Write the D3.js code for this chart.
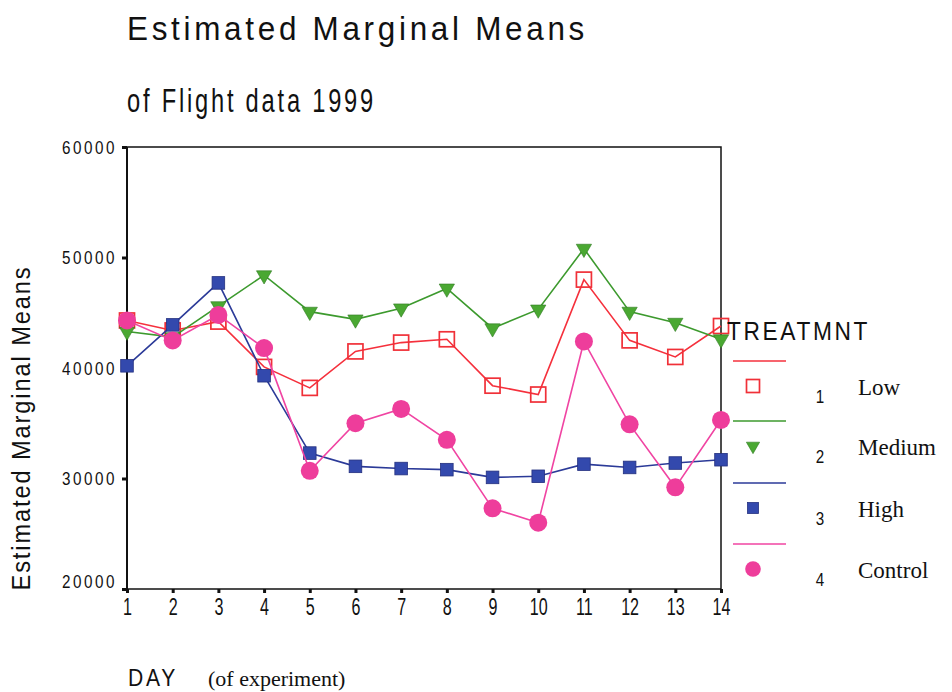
<!DOCTYPE html>
<html>
<head>
<meta charset="utf-8">
<script src="https://cdn.jsdelivr.net/npm/d3@7"></script>
<style>
  body { margin: 0; background: #fff; }
  text { font-family: "Liberation Sans", Arial, sans-serif; fill: #111; }
  .serif { font-family: "Liberation Serif", "Times New Roman", serif; }
</style>
</head>
<body>
<div id="chart"></div>
<script>
// Data
const days = [1, 2, 3, 4, 5, 6, 7, 8, 9, 10, 11, 12, 13, 14];
const yTicks = [20000, 30000, 40000, 50000, 60000];
const groups = ['Low', 'Medium', 'High', 'Control'];
const lowValues = [44300, 43400, 44200, 40100, 38200, 41500, 42300, 42600, 38400, 37600, 48000, 42500, 41000, 43800];
const mediumValues = [43300, 42800, 45600, 48400, 45100, 44400, 45400, 47200, 43600, 45300, 50800, 45100, 44100, 42600];
const highValues = [40200, 43900, 47700, 39300, 32300, 31100, 30900, 30800, 30100, 30200, 31300, 31000, 31400, 31700];
const controlValues = [44300, 42500, 44800, 41800, 30700, 35000, 36300, 33500, 27300, 26000, 42400, 34900, 29200, 35300];

const width = 952;
const height = 692;
const plot = { left: 127, right: 721, top: 147, bottom: 589 };

const series = [
  { name: groups[0], values: lowValues, line: '#f5303c', marker: 'openSquare', color: '#f03038' },
  { name: groups[1], values: mediumValues, line: '#3d9a2e', marker: 'triangle', color: '#4aa832' },
  { name: groups[2], values: highValues, line: '#2b3a98', marker: 'square', color: '#3349ad' },
  { name: groups[3], values: controlValues, line: '#f044a2', marker: 'circle', color: '#ee3d9b' }
];

const svg = d3.select('#chart')
  .append('svg')
  .attr('width', width)
  .attr('height', height);

const x = d3.scaleLinear().domain([1, 14]).range([plot.left, plot.right]);
const y = d3.scaleLinear().domain([20000, 60000]).range([plot.bottom, plot.top]);

// Condensed, spaced-out lettering like the original: letter-spacing,
// then squeeze everything into the measured width.
const condensed = (sel, size, spacing, len) => sel
  .attr('font-size', size)
  .style('letter-spacing', spacing + 'px')
  .attr('textLength', len)
  .attr('lengthAdjust', 'spacingAndGlyphs');

// Titles
condensed(svg.append('text').attr('x', 127).attr('y', 40).text('Estimated Marginal Means'), 34, 4, 461);
condensed(svg.append('text').attr('x', 127).attr('y', 112).text('of Flight data 1999'), 34, 4, 249);

// Frame
svg.append('rect')
  .attr('x', plot.left).attr('y', plot.top)
  .attr('width', plot.right - plot.left)
  .attr('height', plot.bottom - plot.top)
  .attr('fill', 'none')
  .attr('stroke', '#111')
  .attr('stroke-width', 1.5);

svg.append('line')
  .attr('x1', plot.left).attr('x2', plot.left)
  .attr('y1', plot.top).attr('y2', plot.bottom)
  .attr('stroke', '#111').attr('stroke-width', 2);

// Axes
const yAxis = svg.append('g')
  .attr('transform', `translate(${plot.left},0)`)
  .call(d3.axisLeft(y).tickValues(yTicks).tickSize(5).tickPadding(5).tickFormat(d3.format('d')));

const xAxis = svg.append('g')
  .attr('transform', `translate(0,${plot.bottom})`)
  .call(d3.axisBottom(x).tickValues(days).tickSize(4).tickPadding(6).tickFormat(d3.format('d')));

[yAxis, xAxis].forEach(axis => {
  axis.select('.domain').remove();
  axis.selectAll('.tick line').attr('stroke', '#111').attr('stroke-width', 3);
  axis.selectAll('.tick text')
    .attr('fill', '#111')
    .style('font-family', '"Liberation Sans", Arial, sans-serif');
});

// the bottom label sits a little above its tick in the original
yAxis.selectAll('.tick text')
  .attr('dy', d => d === 20000 ? '-0.1em' : '0.36em')
  .call(sel => condensed(sel, 18, 3, 55));

xAxis.selectAll('.tick text')
  .attr('font-size', 23)
  .attr('dy', '0.71em')
  .attr('transform', 'scale(0.7,1)');

// Axis titles
condensed(svg.append('text')
  .attr('transform', 'translate(30,428) rotate(-90)')
  .attr('text-anchor', 'middle')
  .text('Estimated Marginal Means'), 25, 2, 325);

condensed(svg.append('text').attr('x', 128).attr('y', 686).text('DAY'), 23, 3, 50);

svg.append('text')
  .attr('class', 'serif')
  .attr('x', 208).attr('y', 686)
  .attr('font-size', 22)
  .text('(of experiment)');

// Markers
const drawMarker = (sel, s, size) => {
  if (s.marker === 'openSquare') {
    sel.append('rect')
      .attr('x', -size / 2).attr('y', -size / 2)
      .attr('width', size).attr('height', size)
      .attr('fill', 'none').attr('stroke', s.color).attr('stroke-width', 1.7);
  } else if (s.marker === 'square') {
    sel.append('rect')
      .attr('x', -size * 0.42).attr('y', -size * 0.42)
      .attr('width', size * 0.84).attr('height', size * 0.84)
      .attr('fill', s.color).attr('stroke', '#24307f').attr('stroke-width', 0.8);
  } else if (s.marker === 'triangle') {
    sel.append('path')
      .attr('d', d3.symbol(d3.symbolTriangle, size * size * 0.45)())
      .attr('transform', 'rotate(180)')
      .attr('fill', s.color).attr('stroke', '#2f7a22').attr('stroke-width', 0.6);
  } else {
    sel.append('circle')
      .attr('r', size * 0.6)
      .attr('fill', s.color);
  }
};

const line = d3.line()
  .x((d, i) => x(days[i]))
  .y(d => y(d));

series.forEach(s => {
  const g = svg.append('g');

  g.append('path')
    .datum(s.values)
    .attr('fill', 'none')
    .attr('stroke', s.line)
    .attr('stroke-width', 1.6)
    .attr('d', line);

  g.selectAll('g.pt')
    .data(s.values)
    .join('g')
    .attr('class', 'pt')
    .attr('transform', (d, i) => `translate(${x(days[i])},${y(d)})`)
    .each(function () { drawMarker(d3.select(this), s, 15); });
});

// Legend
condensed(svg.append('text').attr('x', 727).attr('y', 340).text('TREATMNT'), 26, 3, 143);

const legendRowsY = [361, 421, 483, 544];

series.forEach((s, i) => {
  const ly = legendRowsY[i];
  svg.append('line')
    .attr('x1', 733).attr('x2', 786)
    .attr('y1', ly).attr('y2', ly)
    .attr('stroke', s.line).attr('stroke-width', 1.6);

  const mg = svg.append('g')
    .attr('transform', `translate(753,${ly + 25})`);
  drawMarker(mg, s, 13);

  svg.append('text')
    .attr('transform', `translate(820,${ly + 42}) scale(0.8,1)`)
    .attr('text-anchor', 'middle')
    .attr('font-size', 19)
    .text(i + 1);

  svg.append('text')
    .attr('class', 'serif')
    .attr('x', 858).attr('y', ly + 34)
    .attr('font-size', 23)
    .text(s.name);
});
</script>
</body>
</html>
